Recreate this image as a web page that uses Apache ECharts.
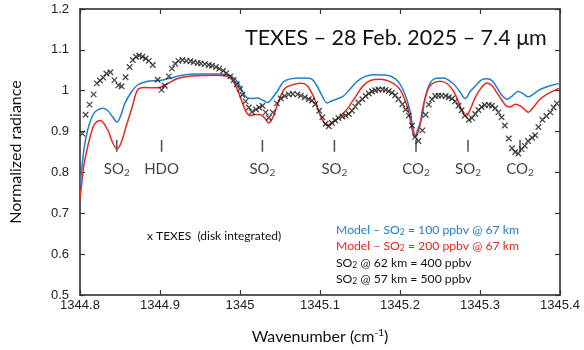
<!doctype html>
<html>
<head>
<meta charset="utf-8">
<title>TEXES 7.4 um</title>
<script src="https://cdn.jsdelivr.net/npm/echarts@6/dist/echarts.min.js"></script>
<style>
  html, body { margin: 0; padding: 0; background: #fff; }
  #main { width: 584px; height: 350px; }
</style>
</head>
<body>
<div id="main"></div>
<script>
// TEXES disk-integrated spectrum, [wavenumber, normalized radiance]
var texes = [
  [1344.803,0.895],[1344.807,0.941],[1344.812,0.966],[1344.817,0.991],[1344.821,1.018],[1344.825,1.025],
  [1344.829,1.032],[1344.833,1.042],[1344.838,1.045],[1344.843,1.026],[1344.848,1.013],[1344.852,1.011],
  [1344.857,1.033],[1344.862,1.058],[1344.866,1.075],[1344.870,1.083],[1344.874,1.086],[1344.878,1.083],
  [1344.882,1.079],[1344.886,1.073],[1344.891,1.063],[1344.897,1.027],[1344.902,1.002],[1344.906,1.012],
  [1344.911,1.035],[1344.915,1.054],[1344.919,1.066],[1344.923,1.073],[1344.928,1.075],[1344.933,1.073],
  [1344.938,1.072],[1344.942,1.070],[1344.947,1.068],[1344.951,1.067],[1344.956,1.065],[1344.961,1.063],
  [1344.965,1.061],[1344.970,1.058],[1344.974,1.054],[1344.979,1.049],[1344.983,1.043],[1344.988,1.035],
  [1344.992,1.026],[1344.996,1.016],[1345.000,1.004],[1345.003,0.990],[1345.007,0.974],[1345.011,0.959],
  [1345.015,0.948],[1345.020,0.954],[1345.024,0.959],[1345.028,0.963],[1345.032,0.947],[1345.036,0.934],
  [1345.041,0.947],[1345.046,0.969],[1345.051,0.981],[1345.056,0.987],[1345.061,0.991],[1345.066,0.992],
  [1345.072,0.991],[1345.076,0.988],[1345.081,0.984],[1345.086,0.979],[1345.090,0.976],[1345.094,0.967],
  [1345.099,0.951],[1345.103,0.935],[1345.107,0.919],[1345.111,0.913],[1345.115,0.921],[1345.119,0.927],
  [1345.123,0.933],[1345.128,0.937],[1345.132,0.939],[1345.136,0.943],[1345.140,0.951],[1345.144,0.961],
  [1345.148,0.971],[1345.153,0.979],[1345.157,0.987],[1345.161,0.993],[1345.165,0.998],[1345.169,1.001],
  [1345.173,1.003],[1345.178,1.003],[1345.182,1.002],[1345.186,0.999],[1345.190,0.995],[1345.194,0.989],
  [1345.198,0.979],[1345.203,0.967],[1345.207,0.954],[1345.211,0.939],[1345.215,0.915],[1345.219,0.887],
  [1345.223,0.877],[1345.228,0.903],[1345.232,0.941],[1345.236,0.966],[1345.240,0.979],[1345.244,0.987],
  [1345.248,0.988],[1345.252,0.988],[1345.257,0.987],[1345.261,0.984],[1345.265,0.981],[1345.269,0.974],
  [1345.273,0.963],[1345.277,0.952],[1345.281,0.939],[1345.286,0.929],[1345.290,0.933],[1345.294,0.943],
  [1345.298,0.953],[1345.302,0.960],[1345.306,0.965],[1345.311,0.965],[1345.315,0.963],[1345.319,0.957],
  [1345.323,0.947],[1345.327,0.935],[1345.331,0.915],[1345.336,0.883],[1345.340,0.859],[1345.344,0.850],
  [1345.348,0.846],[1345.352,0.857],[1345.356,0.865],[1345.360,0.877],[1345.365,0.885],[1345.369,0.891],
  [1345.373,0.911],[1345.378,0.929],[1345.383,0.938],[1345.388,0.947],[1345.392,0.959],[1345.396,0.969]
];

// model, SO2 = 100 ppbv @ 67 km
var model100 = [
  [1344.800,0.767],[1344.8025,0.815],[1344.8054,0.863],[1344.8096,0.904],[1344.8137,0.930],[1344.8175,0.945],
  [1344.8221,0.953],[1344.8283,0.957],[1344.8349,0.951],[1344.8412,0.935],[1344.8462,0.923],[1344.8511,0.940],
  [1344.8561,0.969],[1344.8636,0.995],[1344.8720,1.014],[1344.8844,1.023],[1344.8948,1.025],[1344.9035,1.026],
  [1344.9135,1.031],[1344.9260,1.037],[1344.9385,1.040],[1344.9510,1.041],[1344.9696,1.041],[1344.9859,1.038],
  [1344.9925,1.031],[1344.9983,1.017],[1345.0046,0.993],[1345.0096,0.982],[1345.0158,0.981],[1345.0217,0.982],
  [1345.0283,0.977],[1345.0345,0.971],[1345.0407,0.983],[1345.0470,1.000],[1345.0545,1.022],[1345.0632,1.029],
  [1345.0757,1.031],[1345.0881,1.030],[1345.0956,1.014],[1345.1019,0.990],[1345.1090,0.970],[1345.1156,0.976],
  [1345.1218,0.980],[1345.1293,0.987],[1345.1380,1.005],[1345.1464,1.023],[1345.1567,1.035],[1345.1667,1.039],
  [1345.1838,1.038],[1345.1942,1.029],[1345.2004,1.015],[1345.2054,0.995],[1345.2091,0.975],[1345.2129,0.947],
  [1345.2154,0.918],[1345.2191,0.891],[1345.2229,0.909],[1345.2275,0.935],[1345.2303,0.971],[1345.2337,0.999],
  [1345.2378,1.019],[1345.2428,1.029],[1345.2540,1.031],[1345.2665,1.017],[1345.2740,1.000],[1345.2815,0.981],
  [1345.2877,0.998],[1345.2940,1.011],[1345.3014,1.026],[1345.3089,1.029],[1345.3152,1.024],[1345.3214,1.007],
  [1345.3276,0.988],[1345.3339,0.979],[1345.3401,0.987],[1345.3476,0.998],[1345.3538,0.993],[1345.3601,0.985],
  [1345.3675,0.993],[1345.3750,1.003],[1345.3875,1.012],[1345.4000,1.018]
];

// model, SO2 = 200 ppbv @ 67 km
var model200 = [
  [1344.800,0.736],[1344.8025,0.779],[1344.8050,0.820],[1344.8096,0.863],[1344.8137,0.894],[1344.8178,0.917],
  [1344.8253,0.927],[1344.8346,0.904],[1344.8408,0.873],[1344.8462,0.858],[1344.8511,0.871],[1344.8574,0.911],
  [1344.8657,0.963],[1344.8720,1.002],[1344.8802,1.008],[1344.8969,1.007],[1344.9073,1.015],[1344.9219,1.030],
  [1344.9343,1.035],[1344.9510,1.037],[1344.9696,1.038],[1344.9821,1.036],[1344.9884,1.030],[1344.9933,1.017],
  [1344.9983,0.995],[1345.0033,0.969],[1345.0083,0.946],[1345.0133,0.939],[1345.0195,0.942],[1345.0258,0.941],
  [1345.0308,0.933],[1345.0357,0.921],[1345.0407,0.933],[1345.0457,0.959],[1345.0507,0.986],[1345.0557,1.005],
  [1345.0632,1.013],[1345.0757,1.018],[1345.0831,1.014],[1345.0881,1.000],[1345.0944,0.974],[1345.1006,0.939],
  [1345.1090,0.915],[1345.1143,0.921],[1345.1214,0.931],[1345.1268,0.941],[1345.1339,0.955],[1345.1405,0.974],
  [1345.1464,0.991],[1345.1530,1.010],[1345.1630,1.025],[1345.1755,1.028],[1345.1854,1.024],[1345.1963,1.011],
  [1345.2016,0.998],[1345.2066,0.975],[1345.2104,0.952],[1345.2129,0.927],[1345.2154,0.904],[1345.2182,0.887],
  [1345.2216,0.894],[1345.2253,0.919],[1345.2278,0.952],[1345.2316,0.983],[1345.2353,1.005],[1345.2399,1.017],
  [1345.2503,1.023],[1345.2590,1.017],[1345.2669,0.999],[1345.2727,0.974],[1345.2777,0.951],[1345.2827,0.937],
  [1345.2877,0.954],[1345.2940,0.983],[1345.3014,1.007],[1345.3086,1.019],[1345.3152,1.012],[1345.3214,0.994],
  [1345.3276,0.976],[1345.3326,0.963],[1345.3376,0.960],[1345.3439,0.967],[1345.3501,0.963],[1345.3563,0.953],
  [1345.3604,0.947],[1345.3663,0.959],[1345.3750,0.979],[1345.3850,0.993],[1345.3975,1.005],[1345.4000,1.006]
];

// absorption line markers
var bandWn = [1344.846, 1344.902, 1345.028, 1345.118, 1345.220, 1345.285, 1345.350];
var bandMol = ['SO2', 'HDO', 'SO2', 'SO2', 'CO2', 'SO2', 'CO2'];
var bandTickY = 0.865;
var bandLabelY = 0.808;

var xTicks = [1344.8, 1344.9, 1345, 1345.1, 1345.2, 1345.3, 1345.4];
var yTicks = [0.5, 0.6, 0.7, 0.8, 0.9, 1, 1.1, 1.2];

var calibri = 'Lato, "Open Sans", sans-serif';
var arial = '"Liberation Sans", Arial, sans-serif';

function molRich(name) {
  if (name.slice(-1) === '2') return '{m|' + name.slice(0, -1) + '}{s|2}';
  return '{m|' + name + '}';
}

function legendLine(parts, color) {
  return {
    text: parts, fill: color,
    rich: {
      t: { fontFamily: calibri, fontSize: 12.2, fill: color },
      s: { fontFamily: calibri, fontSize: 8.5, fill: color, padding: [5, 0, 0, 0] }
    }
  };
}

var frame = {
  axisLine: { show: true, lineStyle: { color: '#222', width: 1.5 } },
  axisTick: { show: true, inside: true, length: 5, lineStyle: { color: '#333', width: 1.2 } },
  splitLine: { show: false }
};

var myChart = echarts.init(document.getElementById('main'));

var option = {
  animation: false,
  grid: { left: 79, right: 24, top: 9, bottom: 49 },
  xAxis: [
    Object.assign({
      type: 'value', min: xTicks[0], max: xTicks[xTicks.length - 1], interval: 0.1,
      position: 'bottom',
      name: '{t|Wavenumber (cm}{sup|-1}{t|)}',
      nameLocation: 'middle', nameGap: 33,
      nameTextStyle: {
        rich: {
          t: { fontFamily: calibri, fontSize: 16, color: '#111' },
          sup: { fontFamily: calibri, fontSize: 10, color: '#111', padding: [0, 0, 8, 0] }
        }
      },
      axisLabel: {
        fontFamily: arial, fontSize: 13, color: '#222', margin: 4, showMaxLabel: true,
        formatter: function (v) { return String(+v.toFixed(1)); }
      }
    }, frame),
    Object.assign({
      type: 'value', min: xTicks[0], max: xTicks[xTicks.length - 1], interval: 0.1,
      position: 'top', axisLabel: { show: false }
    }, frame)
  ],
  yAxis: [
    Object.assign({
      type: 'value', min: yTicks[0], max: yTicks[yTicks.length - 1], interval: 0.1,
      position: 'left',
      name: 'Normalized radiance', nameLocation: 'middle', nameGap: 56,
      nameTextStyle: { fontFamily: calibri, fontSize: 16, color: '#111' },
      axisLabel: {
        fontFamily: arial, fontSize: 13, color: '#222', margin: 11,
        formatter: function (v) { return String(+v.toFixed(1)); }
      }
    }, frame),
    Object.assign({
      type: 'value', min: yTicks[0], max: yTicks[yTicks.length - 1], interval: 0.1,
      position: 'right', axisLabel: { show: false }
    }, frame)
  ],
  graphic: [
    {
      type: 'text', left: 245, top: 27,
      style: { text: 'TEXES – 28 Feb. 2025 – 7.4 μm', font: '21.5px ' + calibri, fill: '#111' }
    },
    {
      type: 'text', left: 147, top: 230,
      style: { text: 'x TEXES  (disk integrated)', font: '12px ' + calibri, fill: '#111' }
    },
    {
      type: 'group', left: 336, top: 224,
      children: [
        { type: 'text', y: 0, style: legendLine('{t|Model – SO}{s|2}{t| = 100 ppbv @ 67 km}', '#1f7fcb') },
        { type: 'text', y: 16, style: legendLine('{t|Model – SO}{s|2}{t| = 200 ppbv @ 67 km}', '#e8281f') },
        { type: 'text', y: 33, style: legendLine('{t|SO}{s|2}{t| @ 62 km = 400 ppbv}', '#111') },
        { type: 'text', y: 49, style: legendLine('{t|SO}{s|2}{t| @ 57 km = 500 ppbv}', '#111') }
      ]
    }
  ],
  series: [
    {
      name: 'Model 100', type: 'line', data: model100, smooth: 0.35, symbol: 'none',
      lineStyle: { color: '#1f7fcb', width: 1.5 }, z: 3
    },
    {
      name: 'Model 200', type: 'line', data: model200, smooth: 0.35, symbol: 'none',
      lineStyle: { color: '#e8281f', width: 1.5 }, z: 3
    },
    {
      name: 'TEXES', type: 'scatter', data: texes,
      symbol: 'path://M0,0L10,10M10,0L0,10', symbolSize: 5.5,
      itemStyle: { color: 'transparent', borderColor: '#1a1a1a', borderWidth: 1.3 }, z: 4
    },
    {
      name: 'band ticks', type: 'scatter', silent: true,
      data: bandWn.map(function (w) { return [w, bandTickY]; }),
      symbol: 'rect', symbolSize: [1.5, 12],
      itemStyle: { color: '#222' }, z: 2
    },
    {
      name: 'band labels', type: 'scatter', silent: true,
      data: bandWn.map(function (w, i) { return { value: [w, bandLabelY], mol: bandMol[i] }; }),
      symbolSize: 0,
      label: {
        show: true, position: 'inside',
        formatter: function (p) { return molRich(p.data.mol); },
        rich: {
          m: { fontFamily: calibri, fontSize: 15, color: '#111' },
          s: { fontFamily: calibri, fontSize: 10, color: '#111', padding: [7, 0, 0, 0] }
        }
      }, z: 2
    }
  ]
};

myChart.setOption(option);
</script>
</body>
</html>
